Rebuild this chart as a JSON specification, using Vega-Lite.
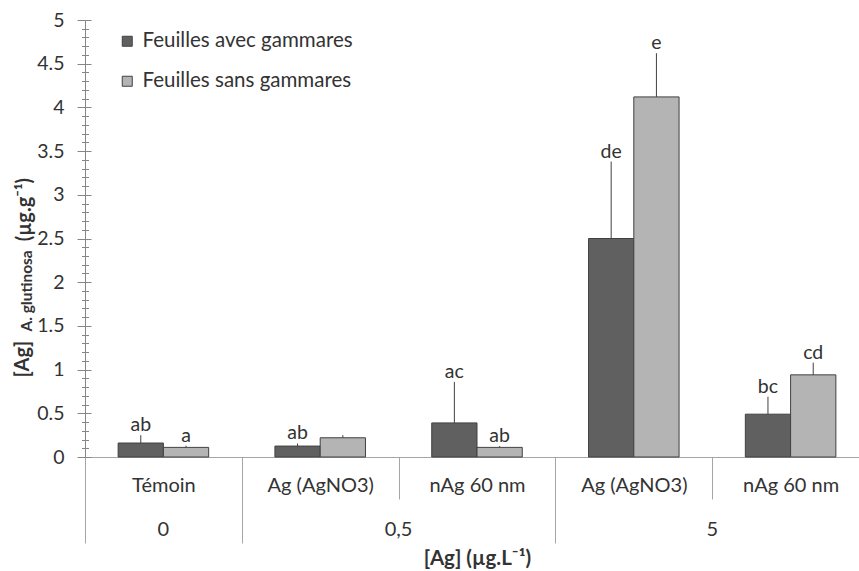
{
  "$schema": "https://vega.github.io/schema/vega-lite/v6.json",
  "autosize": {"type": "none"},
  "padding": {"left": 85, "top": 20, "right": 0, "bottom": 114},
  "width": 784,
  "height": 437,
  "background": "white",
  "config": {
    "view": {"stroke": null},
    "font": "Lato",
    "text": {"font": "Lato", "color": "#333333"}
  },
  "datasets": {
    "bars": [
      {"cat": "T0", "group": "Feuilles avec gammares", "value": 0.16, "upper": 0.25, "letter": "ab"},
      {"cat": "T0", "group": "Feuilles sans gammares", "value": 0.11, "upper": 0.13, "letter": "a"},
      {"cat": "A05", "group": "Feuilles avec gammares", "value": 0.125, "upper": 0.155, "letter": "ab"},
      {"cat": "A05", "group": "Feuilles sans gammares", "value": 0.22, "upper": 0.25, "letter": ""},
      {"cat": "N05", "group": "Feuilles avec gammares", "value": 0.39, "upper": 0.86, "letter": "ac"},
      {"cat": "N05", "group": "Feuilles sans gammares", "value": 0.11, "upper": 0.125, "letter": "ab"},
      {"cat": "A5", "group": "Feuilles avec gammares", "value": 2.5, "upper": 3.38, "letter": "de"},
      {"cat": "A5", "group": "Feuilles sans gammares", "value": 4.12, "upper": 4.62, "letter": "e"},
      {"cat": "N5", "group": "Feuilles avec gammares", "value": 0.49, "upper": 0.69, "letter": "bc"},
      {"cat": "N5", "group": "Feuilles sans gammares", "value": 0.94, "upper": 1.08, "letter": "cd"}
    ]
  },
  "data": {"name": "bars"},
  "resolve": {"axis": {"y": "independent"}},
  "layer": [
    {
      "mark": {"type": "bar", "stroke": "#404040", "strokeWidth": 1},
      "encoding": {
        "x": {
          "field": "cat", "type": "nominal",
          "scale": {"domain": ["T0", "A05", "N05", "A5", "N5"], "paddingInner": 0, "paddingOuter": 0},
          "axis": {
            "title": "[Ag] (µg.L⁻¹)",
            "titleFont": "Lato", "titleFontWeight": "bold", "titleFontSize": 20.5, "titleColor": "#333333",
            "titlePadding": 5,
            "labelExpr": "datum.value=='T0' ? 'Témoin' : (datum.value=='A05' || datum.value=='A5') ? 'Ag (AgNO3)' : (datum.value=='N05' || datum.value=='N5') ? 'nAg 60 nm' : ''",
            "labelAngle": 0, "labelFont": "Lato", "labelFontSize": 20, "labelColor": "#333333",
            "labelBaseline": "middle",
            "labelPadding": {"condition": {"test": "datum.value=='A05' || datum.value=='A5'", "value": -14}, "value": -58},
            "tickBand": "extent",
            "tickColor": "#a6a6a6",
            "tickSize": {"condition": {"test": "datum.value=='A05' || datum.value=='A5'", "value": 42}, "value": 86},
            "domainColor": "#a6a6a6"
          }
        },
        "xOffset": {"field": "group", "type": "nominal", "scale": {"paddingInner": 0, "paddingOuter": 0.732}},
        "y": {
          "field": "value", "type": "quantitative",
          "scale": {"domain": [0, 5], "nice": false, "zero": true},
          "axis": {
            "title": null,
            "values": [0,0.1,0.2,0.3,0.4,0.5,0.6,0.7,0.8,0.9,1,1.1,1.2,1.3,1.4,1.5,1.6,1.7,1.8,1.9,2,2.1,2.2,2.3,2.4,2.5,2.6,2.7,2.8,2.9,3,3.1,3.2,3.3,3.4,3.5,3.6,3.7,3.8,3.9,4,4.1,4.2,4.3,4.4,4.5,4.6,4.7,4.8,4.9,5],
            "labelExpr": "abs(datum.value*2-round(datum.value*2))<0.01 ? toString(round(datum.value*10)/10) : ''",
            "labelFont": "Lato", "labelFontSize": 19.5, "labelColor": "#333333",
            "labelPadding": {"condition": {"test": "abs(datum.value*2-round(datum.value*2))<0.01", "value": 13}, "value": 17},
            "domainColor": "#868686",
            "tickColor": "#868686",
            "tickSize": {"condition": {"test": "abs(datum.value*2-round(datum.value*2))<0.01", "value": 8}, "value": 3.5},
            "grid": false
          }
        },
        "color": {
          "field": "group", "type": "nominal",
          "scale": {"domain": ["Feuilles avec gammares", "Feuilles sans gammares"], "range": ["#606060", "#b4b4b4"]},
          "legend": {
            "title": null, "orient": "none", "legendX": 32, "legendY": 11,
            "symbolType": "square", "symbolSize": 100, "symbolStrokeColor": "#404040", "symbolStrokeWidth": 1,
            "labelFont": "Lato", "labelFontSize": 20.5, "labelColor": "#333333", "labelOffset": 5,
            "labelLimit": 400,
            "rowPadding": 19
          }
        }
      }
    },
    {
      "mark": {"type": "rule", "color": "#404040", "strokeWidth": 1},
      "encoding": {
        "x": {"field": "cat", "type": "nominal"},
        "xOffset": {"field": "group", "type": "nominal"},
        "y": {
          "field": "value", "type": "quantitative",
          "axis": {
            "orient": "left", "title": null, "labels": false, "domain": false,
            "values": [0,0.1,0.2,0.3,0.4,0.5,0.6,0.7,0.8,0.9,1,1.1,1.2,1.3,1.4,1.5,1.6,1.7,1.8,1.9,2,2.1,2.2,2.3,2.4,2.5,2.6,2.7,2.8,2.9,3,3.1,3.2,3.3,3.4,3.5,3.6,3.7,3.8,3.9,4,4.1,4.2,4.3,4.4,4.5,4.6,4.7,4.8,4.9,5],
            "tickColor": "#868686",
            "tickSize": {"condition": {"test": "abs(datum.value*2-round(datum.value*2))<0.01", "value": -6}, "value": -3.5},
            "grid": false
          }
        },
        "y2": {"field": "upper"}
      }
    },
    {
      "mark": {"type": "text", "baseline": "middle", "align": "center", "dy": -10, "fontSize": 19.5},
      "encoding": {
        "x": {"field": "cat", "type": "nominal"},
        "xOffset": {"field": "group", "type": "nominal"},
        "y": {"field": "upper", "type": "quantitative", "axis": null},
        "text": {"field": "letter"}
      }
    },
    {
      "data": {"values": [{"cat": "T0", "lab": "0"}]},
      "mark": {"type": "text", "baseline": "middle", "align": "center", "fontSize": 20},
      "encoding": {
        "x": {"field": "cat", "type": "nominal"},
        "y": {"datum": -0.83, "type": "quantitative", "axis": null},
        "text": {"field": "lab"}
      }
    },
    {
      "data": {"values": [{"cat": "A05", "lab": "0,5"}, {"cat": "A5", "lab": "5"}]},
      "mark": {"type": "text", "baseline": "middle", "align": "center", "fontSize": 20},
      "encoding": {
        "x": {"field": "cat", "type": "nominal", "bandPosition": 1},
        "y": {"datum": -0.83, "type": "quantitative", "axis": null},
        "text": {"field": "lab"}
      }
    },
    {
      "data": {"values": [{"cat": "T0"}]},
      "mark": {"type": "text", "baseline": "middle", "align": "center", "angle": 270, "dy": -62, "fontSize": 20, "fontWeight": "bold"},
      "encoding": {
        "x": {"field": "cat", "type": "nominal", "bandPosition": 0},
        "y": {"datum": 1.12, "type": "quantitative", "axis": null},
        "text": {"value": "[Ag]"}
      }
    },
    {
      "data": {"values": [{"cat": "T0"}]},
      "mark": {"type": "text", "baseline": "middle", "align": "center", "angle": 270, "dy": -58, "fontSize": 15.5, "fontWeight": "bold"},
      "encoding": {
        "x": {"field": "cat", "type": "nominal", "bandPosition": 0},
        "y": {"datum": 1.9, "type": "quantitative", "axis": null},
        "text": {"value": "A. glutinosa"}
      }
    },
    {
      "data": {"values": [{"cat": "T0"}]},
      "mark": {"type": "text", "baseline": "middle", "align": "center", "angle": 270, "dy": -60, "fontSize": 20, "fontWeight": "bold"},
      "encoding": {
        "x": {"field": "cat", "type": "nominal", "bandPosition": 0},
        "y": {"datum": 2.83, "type": "quantitative", "axis": null},
        "text": {"value": "(µg.g⁻¹)"}
      }
    }
  ]
}
